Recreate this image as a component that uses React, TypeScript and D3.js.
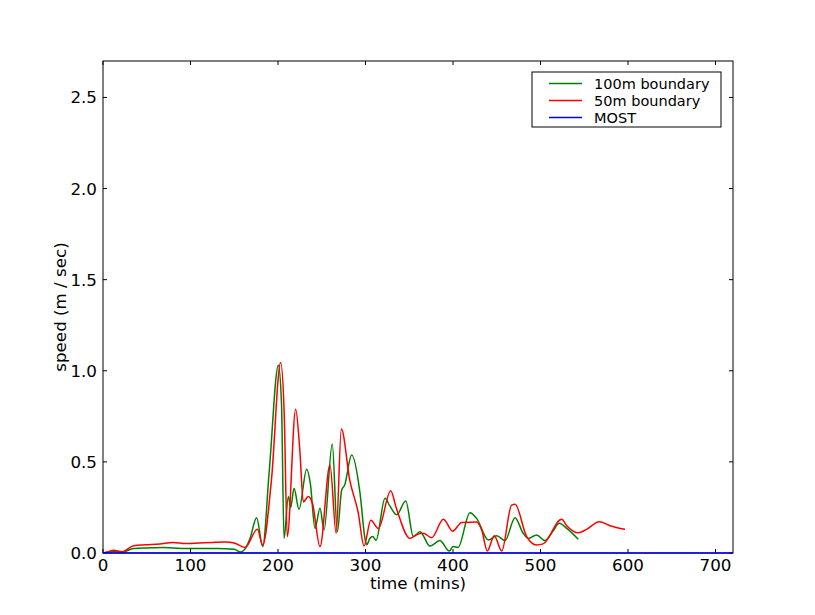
import React from "react";
import * as d3 from "d3";

const t100 = [0, 5, 12, 22, 35, 50, 70, 90, 110, 130, 150, 157, 162, 168, 175.6, 182.5, 190, 200.4, 204, 206.9, 211.8, 214.5, 218.3, 224, 232.8, 237, 242.3, 248, 252.6, 262, 267.8, 272.8, 276, 284.2, 293.7, 299.4, 301.3, 305, 308.2, 312, 322.3, 327.6, 335.6, 346, 354.7, 362.3, 373.7, 385, 395.8, 400, 405.7, 419.4, 427, 440.4, 450, 459.4, 470.9, 480, 486, 495.6, 505, 514.3, 521.5, 530, 543.2];
const v100 = [0, 0.004, 0.008, 0.005, 0.025, 0.028, 0.03, 0.025, 0.025, 0.025, 0.02, 0.005, 0.02, 0.08, 0.194, 0.035, 0.45, 1.03, 0.82, 0.08, 0.31, 0.25, 0.355, 0.24, 0.46, 0.38, 0.135, 0.245, 0.126, 0.598, 0.117, 0.346, 0.37, 0.538, 0.33, 0.08, 0.045, 0.08, 0.09, 0.07, 0.3, 0.26, 0.21, 0.285, 0.09, 0.117, 0.038, 0.068, 0.011, 0.035, 0.03, 0.221, 0.19, 0.071, 0.095, 0.068, 0.194, 0.11, 0.08, 0.099, 0.068, 0.12, 0.163, 0.135, 0.075];

const t50 = [0, 5, 12, 22, 35, 50, 65, 80, 95, 110, 125, 140, 150, 162.3, 176.4, 182.5, 192.5, 203, 207, 210.6, 220.2, 225, 228.9, 234.7, 239.5, 248, 259.4, 266.5, 272.4, 282, 291.8, 298.3, 306, 314.7, 328.8, 335, 350.9, 358, 366, 375.6, 389, 399.6, 410, 427, 432.8, 439.2, 447.2, 455.6, 467, 470.9, 484.2, 495.6, 503, 524.2, 530, 543.2, 552.7, 567.2, 579.4, 596.6];
const v50 = [0, 0.005, 0.015, 0.007, 0.04, 0.045, 0.05, 0.058, 0.052, 0.055, 0.058, 0.06, 0.055, 0.03, 0.13, 0.044, 0.4, 1.045, 0.78, 0.09, 0.789, 0.56, 0.28, 0.31, 0.27, 0.035, 0.483, 0.108, 0.68, 0.4, 0.218, 0.038, 0.18, 0.135, 0.342, 0.25, 0.08, 0.1, 0.108, 0.084, 0.185, 0.12, 0.168, 0.17, 0.126, 0.011, 0.095, 0.011, 0.263, 0.267, 0.09, 0.044, 0.05, 0.185, 0.15, 0.111, 0.13, 0.172, 0.15, 0.13];

const tMost = [0, 720];
const vMost = [0, 0];

const xTicks = [0, 100, 200, 300, 400, 500, 600, 700];
const yTicks = [0, 0.5, 1.0, 1.5, 2.0, 2.5];

const seriesNames = ["100m boundary", "50m boundary", "MOST"];
const seriesColors = ["#008000", "#ff0000", "#0000ff"];

const W = 815, H = 615;
const L = 103, R = 733, T = 61, B = 553;
const FONT = "DejaVu Sans, sans-serif";

export default function App() {
  const x = d3.scaleLinear().domain([0, 720]).range([L, R]);
  const y = d3.scaleLinear().domain([0, 2.7]).range([B, T]);
  const line = d3.line<[number, number]>().x(d => x(d[0])).y(d => y(d[1])).curve(d3.curveMonotoneX);
  const series = [
    t100.map((t, i) => [t, v100[i]] as [number, number]),
    t50.map((t, i) => [t, v50[i]] as [number, number]),
    tMost.map((t, i) => [t, vMost[i]] as [number, number]),
  ];
  const tl = 4;
  return (
    <svg width={W} height={H} style={{ position: "absolute", left: 0, top: 0, background: "#fff" }} fontFamily={FONT}>
      <rect x={0} y={0} width={W} height={H} fill="#fff" />
      <defs>
        <clipPath id="clip"><rect x={L} y={T} width={R - L} height={B - T} /></clipPath>
      </defs>
      <g clipPath="url(#clip)">
        {series.slice(0, 2).map((s, i) => (
          <path key={i} d={line(s) || ""} fill="none" stroke={seriesColors[i]} strokeWidth={1.5} />
        ))}
      </g>
      <rect x={L} y={T} width={R - L} height={B - T} fill="none" stroke="#000" strokeWidth={1} />
      {xTicks.map(v => (
        <g key={"x" + v}>
          <line x1={x(v)} x2={x(v)} y1={B} y2={B - tl} stroke="#000" />
          <line x1={x(v)} x2={x(v)} y1={T} y2={T + tl} stroke="#000" />
          <text x={x(v)} y={B + 18} textAnchor="middle" fontSize={16.7}>{v}</text>
        </g>
      ))}
      {yTicks.map(v => (
        <g key={"y" + v}>
          <line x1={L} x2={L + tl} y1={y(v)} y2={y(v)} stroke="#000" />
          <line x1={R} x2={R - tl} y1={y(v)} y2={y(v)} stroke="#000" />
          <text x={L - 6} y={y(v) + 6} textAnchor="end" fontSize={16.7}>{v.toFixed(1)}</text>
        </g>
      ))}
      <path d={line(series[2]) || ""} fill="none" stroke={seriesColors[2]} strokeWidth={1.5} />
      <text x={(L + R) / 2} y={589} textAnchor="middle" fontSize={16.7}>time (mins)</text>
      <text transform={`translate(66,${(T + B) / 2}) rotate(-90)`} textAnchor="middle" fontSize={16.7}>speed (m / sec)</text>
      <g>
        <rect x={532} y={72} width={189} height={55} fill="#fff" stroke="#000" strokeWidth={1} />
        {seriesNames.map((n, i) => (
          <g key={n}>
            <line x1={549} x2={582} y1={83.5 + i * 17} y2={83.5 + i * 17} stroke={seriesColors[i]} strokeWidth={1.5} />
            <text x={594} y={88.5 + i * 17} fontSize={14.5}>{n}</text>
          </g>
        ))}
      </g>
    </svg>
  );
}
